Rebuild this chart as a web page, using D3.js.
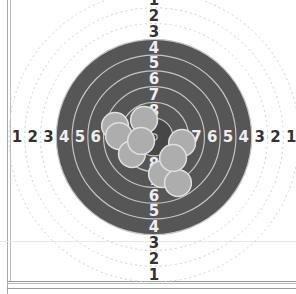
<!DOCTYPE html>
<meta charset="utf-8">
<head>
    <style>
        body { margin: 0; background: white; }
        .lbl { font: bold 15px "DejaVu Sans", sans-serif; }
    </style>
</head>
<body>
    <script src="https://d3js.org/d3.v7.min.js"></script>
    <div id="chart"></div>
    <script>
        // ring numbers shown on the target
        var rings = [1, 2, 3, 4, 5, 6, 7, 8, 9, 10];
        var ringLabels = [1, 2, 3, 4, 5, 6, 7, 8];
        // shot positions in ring units from the centre (y up)
        var shotX = [-2.47, -2.22, -0.63, -1.40, -0.82, 1.78, 0.51, 1.52, 1.21];
        var shotY = [0.70, 0.06, 1.08, -1.08, -0.25, -0.38, -2.35, -2.92, -1.33];

        var width = 296, height = 294;
        var cx = 154, cy = 137;
        var ringW = 1;          // one ring per unit
        var outerR = 9.2;       // outer edge of ring 1 in units

        var svg = d3.select("#chart").append("svg")
            .attr("width", width)
            .attr("height", height);

        // scales
        var x = d3.scaleLinear().domain([-outerR, outerR]).range([cx - 145, cx + 145]);
        var y = d3.scaleLinear().domain([-outerR, outerR]).range([cy + 145, cy - 145]);
        var r = d3.scaleLinear().domain([0, outerR]).range([0, 145]);

        function outer(k) { return outerR - (k - 1) * ringW; }

        // frame
        svg.append("line").attr("x1", 7.5).attr("x2", 7.5).attr("y1", 0).attr("y2", 294)
            .attr("stroke", "#aaa");
        svg.append("line").attr("x1", 10.5).attr("x2", 10.5).attr("y1", 0).attr("y2", 282)
            .attr("stroke", "#bbb");
        svg.append("line").attr("x1", 0).attr("x2", 296).attr("y1", 241.5).attr("y2", 241.5)
            .attr("stroke", "#e8e8e8");
        svg.append("line").attr("x1", 7).attr("x2", 296).attr("y1", 281.5).attr("y2", 281.5)
            .attr("stroke", "#999");
        svg.append("line").attr("x1", 7).attr("x2", 296).attr("y1", 283.5).attr("y2", 283.5)
            .attr("stroke", "#bbb");
        svg.append("line").attr("x1", 7).attr("x2", 296).attr("y1", 288.5).attr("y2", 288.5)
            .attr("stroke", "#999");

        var g = svg.append("g");

        // black (dark) area: rings 4 and up
        g.append("circle")
            .attr("cx", x(0)).attr("cy", y(0))
            .attr("r", r(outer(4)))
            .attr("fill", "#565656");
        g.append("circle")
            .attr("cx", x(0)).attr("cy", y(0))
            .attr("r", r(outer(9)))
            .attr("fill", "#474747");

        // ring boundaries
        g.selectAll("circle.ring")
            .data(rings)
            .enter().append("circle")
            .attr("class", "ring")
            .attr("cx", x(0)).attr("cy", y(0))
            .attr("r", function (d) { return r(outer(d)); })
            .attr("fill", "none")
            .attr("stroke", function (d) { return d < 4 ? "#d0d0d0" : "#c4c4c4"; })
            .attr("stroke-width", function (d) { return d < 4 ? 1 : 1.2; })
            .attr("stroke-dasharray", function (d) { return d < 4 ? "2,3" : null; });

        // labels on the four axes
        var sides = [[0, 1], [0, -1], [-1, 0], [1, 0]];
        sides.forEach(function (s) {
            g.selectAll(null)
                .data(ringLabels)
                .enter().append("text")
                .attr("class", "lbl")
                .attr("x", function (d) { return x(s[0] * (outer(d) - 0.5)); })
                .attr("y", function (d) { return y(s[1] * (outer(d) - 0.5)); })
                .attr("dy", "0.36em")
                .attr("text-anchor", "middle")
                .attr("fill", function (d) { return d < 4 ? "#333" : "#eee"; })
                .text(function (d) { return d; });
        });

        // shots
        g.selectAll("circle.shot")
            .data(shotX)
            .enter().append("circle")
            .attr("class", "shot")
            .attr("cx", function (d) { return x(d); })
            .attr("cy", function (d, i) { return y(shotY[i]); })
            .attr("r", r(0.85))
            .attr("fill", "#adadad")
            .attr("stroke", "#e0e0e0")
            .attr("stroke-width", 1.5);
    </script>
</body>
